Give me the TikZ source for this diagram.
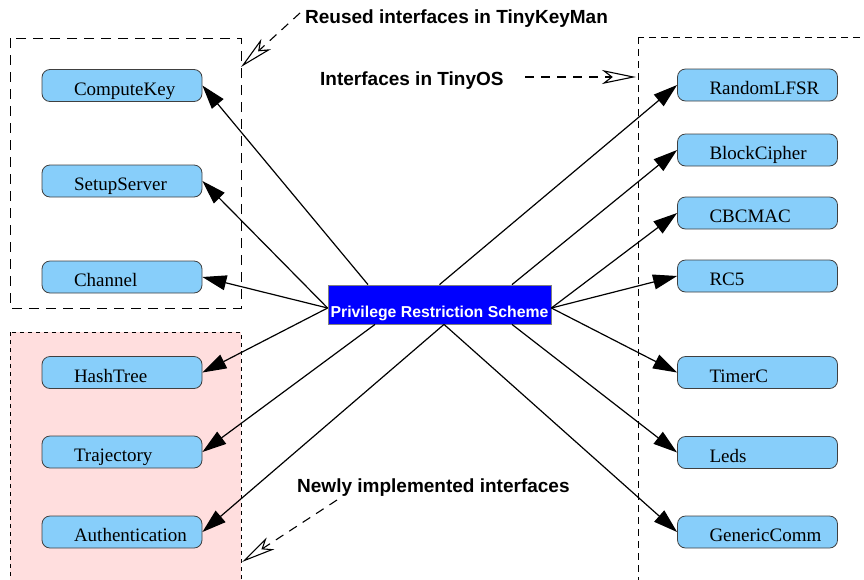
\documentclass[tikz,border=0pt]{standalone}
\usepackage{fontspec}
\setmainfont{Liberation Serif}
\setsansfont{Liberation Sans}
\usetikzlibrary{arrows.meta}
\definecolor{ifblue}{RGB}{135,206,250}
\definecolor{newpink}{RGB}{255,222,222}
\definecolor{schemeblue}{RGB}{0,0,255}
\newcommand\padwide{\hspace*{32pt}}
\begin{document}
\begin{tikzpicture}[x=1pt,y=-1pt,
  ifbox/.style={draw=black!75, line width=0.8pt, fill=ifblue, rounded corners=8pt,
    inner xsep=0pt, inner ysep=0pt, text width=160pt, align=left,
    minimum height=32pt, text height=19pt, text depth=0pt,
    font=\fontsize{19}{19}\selectfont},
  scheme/.style={draw=black!50, line width=0.8pt, fill=schemeblue, text=white,
    font=\sffamily\bfseries\fontsize{15.8}{16}\selectfont,
    minimum width=223pt, minimum height=39pt, inner sep=0pt,
    text height=25pt, text depth=0pt},
  note/.style={font=\sffamily\bfseries\fontsize{19}{19}\selectfont,
    inner sep=0pt, anchor=base west},
  uses/.style={line width=1.2pt, -{Triangle[length=24pt,width=15pt]}},
  pointer/.style={line width=1.1pt, dash pattern=on 9pt off 7pt,
    -{Stealth[open, length=34pt, width=14pt, inset=9pt, line width=1.1pt]}},
  group/.style={line width=1pt}
]
\path[use as bounding box] (0,0) rectangle (864,579);

% grouping frames
\begin{scope}
  \clip (0,0) rectangle (864,579);
  \draw[group, dash pattern=on 10pt off 7pt] (10,38) rectangle (241,308);
  \fill[newpink] (10,332) rectangle (241,600);
  \draw[group, dash pattern=on 4pt off 4pt] (10,332) rectangle (241,600);
  \draw[group, dash pattern=on 7pt off 5pt] (638,37) rectangle (900,600);
\end{scope}

% central component
\node[scheme] (psr) at (439.5,304.5) {Privilege Restriction Scheme};

% reused interfaces
\node[ifbox] (ck) at (122,85.5) {\padwide ComputeKey};
\node[ifbox] (ss) at (122,181) {\padwide SetupServer};
\node[ifbox] (ch) at (122,277) {\padwide Channel};
% newly implemented interfaces
\node[ifbox] (ht) at (122,372.5) {\padwide HashTree};
\node[ifbox] (tr) at (122,452) {\padwide Trajectory};
\node[ifbox] (au) at (122,532) {\padwide Authentication};
% TinyOS interfaces
\node[ifbox] (rl) at (757.5,85) {\padwide RandomLFSR};
\node[ifbox] (bc) at (757.5,150) {\padwide BlockCipher};
\node[ifbox] (cm) at (757.5,213) {\padwide CBCMAC};
\node[ifbox] (rc) at (757.5,276) {\padwide RC5};
\node[ifbox] (tc) at (757.5,372.5) {\padwide TimerC};
\node[ifbox] (ld) at (757.5,452.5) {\padwide Leds};
\node[ifbox] (gc) at (757.5,532) {\padwide GenericComm};

% uses relations
\draw[uses] ([xshift=-71.5pt]psr.north) -- (ck.east);
\draw[uses] ([yshift=-3.5pt]psr.west) -- (ss.east);
\draw[uses] ([yshift=-3.5pt]psr.west) -- (ch.east);
\draw[uses] ([yshift=-3.5pt]psr.west) -- (ht.east);
\draw[uses] ([xshift=-64.5pt]psr.south) -- (tr.east);
\draw[uses] ([xshift=4.5pt]psr.south) -- (au.east);
\draw[uses] (psr.north) -- (rl.west);
\draw[uses] ([xshift=72.5pt]psr.north) -- (bc.west);
\draw[uses] ([yshift=-3.5pt]psr.east) -- (cm.west);
\draw[uses] ([yshift=-3.5pt]psr.east) -- (rc.west);
\draw[uses] ([yshift=-3.5pt]psr.east) -- (tc.west);
\draw[uses] ([xshift=72.5pt]psr.south) -- (ld.west);
\draw[uses] ([xshift=4.5pt]psr.south) -- (gc.west);

% annotations
\node[note] (reused) at (305,23) {Reused interfaces in TinyKeyMan};
\node[note] (tinyos) at (320,85) {Interfaces in TinyOS};
\node[note] (newly) at (297,492) {Newly implemented interfaces};
\coordinate (reusedFrom) at (300,13);
\coordinate (reusedTo) at (241,67);
\coordinate (tinyosFrom) at (525,77);
\coordinate (tinyosTo) at (636,77);
\coordinate (newlyFrom) at (337,500);
\coordinate (newlyTo) at (242,562);
\draw[pointer] (reusedFrom) -- (reusedTo);
\draw[pointer] (tinyosFrom) -- (tinyosTo);
\draw[pointer] (newlyFrom) -- (newlyTo);
\end{tikzpicture}
\end{document}
